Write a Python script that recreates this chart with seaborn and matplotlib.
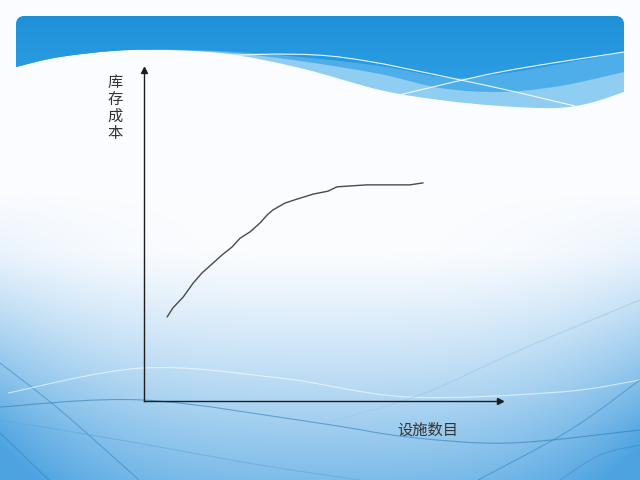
import numpy as np
import pandas as pd
import matplotlib
matplotlib.use("Agg")
import matplotlib.pyplot as plt
from matplotlib.path import Path
from matplotlib.patches import PathPatch
import seaborn as sns

# ---- data ----
facility_count = [6.5, 8.1, 11.0, 13.8, 16.3, 18.5, 21.9, 24.7, 27.0, 29.8, 32.6,
                  34.6, 36.2, 39.6, 43.0, 47.5, 51.7, 54.2, 62.6, 74.7, 78.4]
inventory_cost = [25.4, 28.1, 31.4, 35.6, 38.7, 40.8, 44.1, 46.5, 49.2, 51.1, 53.8,
                  56.2, 57.7, 59.8, 61.0, 62.5, 63.4, 64.7, 65.3, 65.3, 65.9]
x_label = "设施数目"
y_label = "库存成本"

df = pd.DataFrame({"x": facility_count, "y": inventory_cost})

sns.set_theme(style="white")
plt.rcParams["font.family"] = ["Noto Sans CJK SC", "DejaVu Sans"]

fig = plt.figure(figsize=(6.4, 4.8), dpi=100)

# ---- decorative slide background ----
bg = fig.add_axes([0, 0, 1, 1])
bg.set_xlim(0, 640)
bg.set_ylim(480, 0)
bg.axis("off")

W, H = 640, 480
yy, xx = np.mgrid[0:H, 0:W].astype(float)
t = np.clip((yy - 250) / 230, 0, 1)
h = np.abs(xx - 320) / 320
e = 0.40 * h ** 3 * np.clip((yy - 190) / 240, 0, 1)
s = np.clip(0.72 * t ** 1.2 + e, 0, 1)[..., None]
white = np.array([0.985, 0.99, 1.0])
blue = np.array([0.30, 0.64, 0.88])
img = white * (1 - s) + blue * s
bg.imshow(img, extent=(0, W, H, 0), aspect="auto", zorder=0)


def smooth_path(points):
    # Catmull-Rom -> cubic bezier through given points
    pts = np.array(points, float)
    verts = [pts[0]]
    codes = [Path.MOVETO]
    n = len(pts)
    for i in range(n - 1):
        p0 = pts[i - 1] if i > 0 else pts[i]
        p1 = pts[i]
        p2 = pts[i + 1]
        p3 = pts[i + 2] if i + 2 < n else pts[i + 1]
        c1 = p1 + (p2 - p0) / 6
        c2 = p2 - (p3 - p1) / 6
        verts += [c1, c2, p2]
        codes += [Path.CURVE4] * 3
    return verts, codes


def banner_path(bottom_pts):
    r = 9
    verts = [(16, 16 + r), (16, 16), (16 + r, 16), (624 - r, 16), (624, 16), (624, 16 + r)]
    codes = [Path.MOVETO, Path.CURVE3, Path.CURVE3, Path.LINETO, Path.CURVE3, Path.CURVE3]
    v, c = smooth_path(bottom_pts)
    verts += [v[0]]
    codes += [Path.LINETO]
    verts += v[1:]
    codes += c[1:]
    verts += [(16, 16 + r)]
    codes += [Path.CLOSEPOLY]
    return Path(verts, codes)


light_edge = [(624, 92), (590, 103), (555, 108), (500, 106), (440, 100), (380, 90),
              (300, 68), (220, 53), (130, 50), (60, 57), (16, 67)]
mid_edge = [(624, 72), (560, 86), (500, 92), (440, 88), (380, 74),
            (300, 61), (220, 52), (130, 50), (60, 57), (16, 67)]
dark_edge = [(624, 52), (560, 64), (500, 74), (450, 78), (380, 66),
             (300, 57), (220, 51), (130, 50), (60, 57), (16, 67)]

p_light = PathPatch(banner_path(light_edge), facecolor="#8fcdf2", edgecolor="none", zorder=1)
p_mid = PathPatch(banner_path(mid_edge), facecolor="#4eaeea", edgecolor="none", zorder=2)
p_dark = PathPatch(banner_path(dark_edge), facecolor="none", edgecolor="none", zorder=3)
bg.add_patch(p_light)
bg.add_patch(p_mid)
bg.add_patch(p_dark)

gy = np.linspace(0, 1, 100)[:, None]
c_top = np.array([0.12, 0.57, 0.85])
c_bot = np.array([0.20, 0.64, 0.91])
grad = c_top * (1 - gy[..., None]) + c_bot * gy[..., None]
grad = np.repeat(grad, 2, axis=1)
gim = bg.imshow(grad, extent=(16, 624, 110, 16), aspect="auto", zorder=3)
gim.set_clip_path(p_dark)

# thin white lines in the banner
for pts in ([(200, 56), (330, 56), (470, 82), (575, 106)],
            [(395, 96), (500, 72), (624, 52)]):
    v, c = smooth_path(pts)
    bg.add_patch(PathPatch(Path(v, c), facecolor="none", edgecolor="white",
                           lw=0.8, alpha=0.9, zorder=4))

# thin decorative lines in the lower part of the slide
deco = [
    ([(0, 407), (143, 400), (318, 423), (408, 437), (510, 443), (640, 430)], "#2f7fb8", 0.6),
    ([(0, 363), (60, 410), (139, 480)], "#2f7fb8", 0.5),
    ([(0, 433), (49, 480)], "#2f7fb8", 0.5),
    ([(8, 393), (143, 368), (280, 378), (408, 397), (560, 392), (640, 380)], "#ffffff", 0.6),
    ([(326, 423), (420, 395), (520, 350), (640, 300)], "#9cc8e6", 0.6),
    ([(478, 480), (570, 430), (640, 380)], "#2f7fb8", 0.5),
    ([(0, 420), (120, 440), (260, 465), (360, 480)], "#5fa3d3", 0.5),
    ([(560, 480), (600, 455), (640, 445)], "#2f7fb8", 0.4),
]
for pts, col, a in deco:
    v, c = smooth_path(pts)
    bg.add_patch(PathPatch(Path(v, c), facecolor="none", edgecolor=col,
                           lw=0.8, alpha=a, zorder=1))

# ---- chart axes ----
ax = fig.add_axes([144 / 640, (480 - 401) / 480, (500 - 144) / 640, (401 - 70) / 480])
ax.patch.set_alpha(0)
ax.set_xlim(0, 100)
ax.set_ylim(0, 100)

sns.lineplot(data=df, x="x", y="y", ax=ax, color="#4a4a4a", linewidth=1.0)

for sp in ["top", "right"]:
    ax.spines[sp].set_visible(False)
for sp in ["left", "bottom"]:
    ax.spines[sp].set_color("#1e1e1e")
    ax.spines[sp].set_linewidth(1.0)
ax.set_xticks([])
ax.set_yticks([])
ax.set_xlabel("")
ax.set_ylabel("")
ax.plot(1, 0, marker=">", color="#1e1e1e", markersize=4, transform=ax.transAxes, clip_on=False)
ax.plot(0, 1, marker="^", color="#1e1e1e", markersize=4, transform=ax.transAxes, clip_on=False)

fig.text(428 / 640, 1 - 430 / 480, x_label, ha="center", va="center",
         fontsize=11, color="#333333")
fig.text(115 / 640, 1 - 108 / 480, "\n".join(y_label), ha="center", va="center",
         fontsize=11, color="#333333", linespacing=1.0)

fig.savefig("out.png", dpi=100)
